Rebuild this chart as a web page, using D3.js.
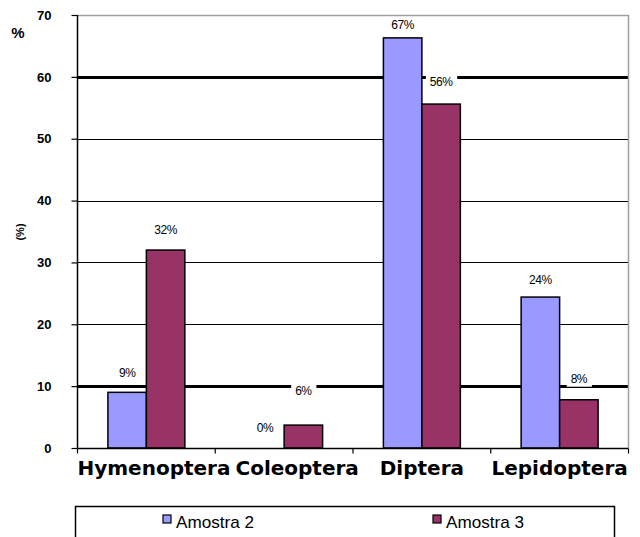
<!DOCTYPE html>
<html><head><meta charset="utf-8">
<script src="https://cdn.jsdelivr.net/npm/d3@7"></script>
<style>body{margin:0;background:#fff}svg{display:block}</style>
</head><body>
<script>
const categories = ["Hymenoptera","Coleoptera","Diptera","Lepidoptera"];
const series = ["Amostra 2","Amostra 3"];
const amostra2 = [9, 0, 66.3, 24.4];
const amostra3 = [32, 3.7, 55.6, 7.8];
const labels2 = ["9%","0%","67%","24%"];
const labels3 = ["32%","6%","56%","8%"];
const labelVals2 = [9, 0, 67, 24];
const labelVals3 = [32, 6, 56, 8];
const yTicks = [0,10,20,30,40,50,60,70];
const thickTicks = [10,60];
const colors = ["#9999FF","#993366"];

const W=640,H=537;
const svg=d3.select("body").append("svg").attr("width",W).attr("height",H);
const y=d3.scaleLinear().domain([0,70]).range([448,15]);
const x0=d3.scaleBand().domain(categories).range([77.5,628.5]);
const x1=d3.scaleBand().domain(series).range([0,x0.bandwidth()]).paddingInner(0).paddingOuter(0.79);

// gridlines
const g=svg.append("g");
g.selectAll("line.grid").data(yTicks.filter(t=>t>0&&t<70)).join("line")
 .attr("x1",77.5).attr("x2",628.5).attr("y1",d=>Math.round(y(d))+0.5).attr("y2",d=>Math.round(y(d))+0.5)
 .attr("stroke","#000").attr("stroke-width",d=>thickTicks.includes(d)?3:1.2);
g.append("line").attr("x1",77.5).attr("x2",628.5).attr("y1",y(70)+0.5).attr("y2",y(70)+0.5).attr("stroke","#a0a0a0").attr("stroke-width",1.5);
g.append("line").attr("x1",628.5).attr("x2",628.5).attr("y1",y(70)).attr("y2",y(0)).attr("stroke","#a0a0a0").attr("stroke-width",1.5);

// bars
const data=categories.map((c,i)=>({c,vals:[amostra2[i],amostra3[i]],labs:[labels2[i],labels3[i]],lv:[labelVals2[i],labelVals3[i]]}));
const bars=svg.append("g");
data.forEach(d=>{
  series.forEach((s,j)=>{
    if(d.vals[j]<=0) return;
    bars.append("rect").attr("x",x0(d.c)+x1(s)).attr("y",y(d.vals[j]))
      .attr("width",x1.bandwidth()).attr("height",y(0)-y(d.vals[j]))
      .attr("fill",colors[j]).attr("stroke","#000").attr("stroke-width",1.5);
  });
});

// axes
const yAxis=d3.axisLeft(y).tickValues(yTicks).tickSize(6).tickPadding(20).tickFormat(d3.format("d"));
const ya=svg.append("g").attr("transform","translate(77.5,0)").call(yAxis);
ya.select(".domain").attr("stroke","#000").attr("stroke-width",1.5).attr("d","M0,"+y(70)+"V"+y(0));
ya.selectAll(".tick line").attr("stroke","#000").attr("stroke-width",1.2);
ya.selectAll(".tick text").attr("font-family","Liberation Sans, Arial, sans-serif").attr("font-weight","bold").attr("font-size",13).attr("fill","#000");

const xa=svg.append("g").attr("transform","translate(0,448.5)");
xa.append("line").attr("x1",77.5).attr("x2",628.5).attr("stroke","#000").attr("stroke-width",1.5);
const bounds=categories.map(c=>x0(c)).concat([x0.range()[1]]);
xa.selectAll("line.t").data(bounds).join("line").attr("x1",d=>d).attr("x2",d=>d).attr("y1",0).attr("y2",5).attr("stroke","#000").attr("stroke-width",1.2);
const xt=xa.selectAll("text").data(categories).join("text")
  .attr("y",26).attr("text-anchor","start")
  .attr("font-family","DejaVu Sans, Verdana, sans-serif").attr("font-weight","bold").attr("font-size",20)
  .text(d=>d);
// label layout: centred, kept inside the left edge, pushed right to avoid overlap
let prevEnd=-Infinity;
xt.each(function(d){
  const w=this.getComputedTextLength();
  let left=x0(d)+x0.bandwidth()/2-w/2;
  left=Math.max(left,x0.range()[0]);
  left=Math.max(left,prevEnd+5);
  d3.select(this).attr("x",left);
  prevEnd=left+w;
});

// data labels
const lg=svg.append("g");
data.forEach(d=>{
  series.forEach((s,j)=>{
    const cx=x0(d.c)+x1(s)+x1.bandwidth()/2;
    const cy=Math.max(25,y(d.lv[j])-20);
    const t=lg.append("text").attr("x",cx).attr("y",cy).attr("dy","0.35em").attr("text-anchor","middle")
      .attr("font-family","Liberation Sans, Arial, sans-serif").attr("font-size",12).attr("letter-spacing",-0.5).text(d.labs[j]);
    const bb=t.node().getBBox();
    lg.insert("rect","text").attr("x",bb.x-4).attr("y",bb.y-1).attr("width",bb.width+8).attr("height",bb.height+2).attr("fill","#fff");
  });
});
lg.selectAll("text").raise();

// axis titles
svg.append("text").attr("x",18).attr("y",38).attr("text-anchor","middle")
  .attr("font-family","Liberation Sans, Arial, sans-serif").attr("font-weight","bold").attr("font-size",15).text("%");
svg.append("text").attr("transform","translate(24,232) rotate(-90)").attr("text-anchor","middle")
  .attr("font-family","Liberation Sans, Arial, sans-serif").attr("font-weight","bold").attr("font-size",11).text("(%)");

// legend
svg.append("rect").attr("x",75.5).attr("y",506.5).attr("width",539).attr("height",50).attr("fill","none").attr("stroke","#000").attr("stroke-width",1.5);
const legX=[163,433];
series.forEach((s,j)=>{
  svg.append("rect").attr("x",legX[j]).attr("y",515).attr("width",8).attr("height",8).attr("fill",colors[j]).attr("stroke","#000").attr("stroke-width",1.2);
  svg.append("text").attr("x",legX[j]+13).attr("y",528).attr("font-family","Liberation Sans Narrow, Liberation Sans, Arial, sans-serif")
    .attr("font-size",17).attr("textLength",78).attr("lengthAdjust","spacingAndGlyphs").text(s);
});
</script>
</body></html>
